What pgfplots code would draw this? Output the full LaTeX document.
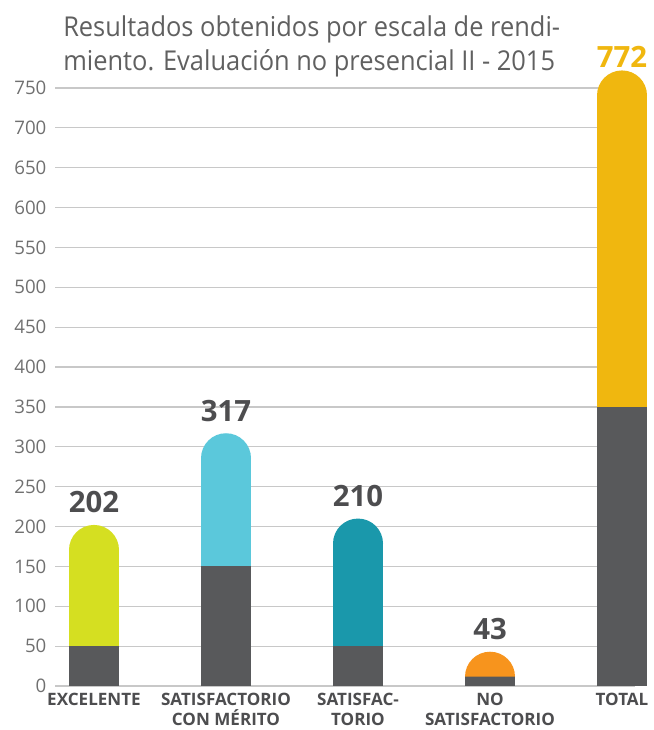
\documentclass[border=0pt]{standalone}
\usepackage{fontspec}
\setmainfont{Open Sans}
\newfontfamily\titlefont{Open Sans}[FakeStretch=0.93]
\usepackage{pgfplots}
\pgfplotsset{compat=1.18}
\definecolor{clime}{HTML}{D5DF21}
\definecolor{clblue}{HTML}{5BC8DB}
\definecolor{cteal}{HTML}{1A98AB}
\definecolor{corange}{HTML}{F7941D}
\definecolor{cyellow}{HTML}{F0B70F}
\definecolor{cgray}{HTML}{58595B}
\definecolor{ctext}{HTML}{4D4D4F}
\definecolor{ctitle}{HTML}{606060}
\definecolor{ctick}{HTML}{707070}
\definecolor{cgrid}{HTML}{C8C8C8}
\pgfdeclareplotmark{halfdisk}{%
  \pgfpathmoveto{\pgfqpoint{\pgfplotmarksize}{0pt}}%
  \pgfpatharc{0}{180}{\pgfplotmarksize}%
  \pgfpathclose
  \pgfusepathqfill}
\newcommand{\capr}{31.35}
\newcommand{\catbar}[4]{%
  \addplot[ybar, bar width=37.5pt, bar shift=0pt, fill=#4, draw=none]
    table[row sep=\\, x=x, y expr=\thisrow{top}-\capr+1.5] {x top\\ #1 #3\\};
  \addplot[only marks, mark=halfdisk, mark size=18.75pt, color=#4]
    table[row sep=\\, x=x, y expr=\thisrow{top}-\capr] {x top\\ #1 #3\\};
  \addplot[ybar, bar width=37.5pt, bar shift=0pt, fill=cgray, draw=none]
    table[row sep=\\, x=x, y=base] {x base\\ #1 #2\\};
}
\begin{document}
\begin{tikzpicture}
\useasboundingbox (-70.5pt,-33pt) rectangle (419.25pt,514.5pt);
\begin{axis}[
  anchor=origin, at={(0pt,0pt)},
  x=99pt, y=0.598pt,
  xmin=-0.295, xmax=4.1, ymin=0, ymax=750,
  clip=false,
  axis line style={draw=none},
  major tick length=0pt,
  ytick={0,50,...,750},
  ymajorgrids,
  grid style={cgrid, line width=0.9pt},
  yticklabel style={font=\fontsize{14}{14}\selectfont, text=ctick, xshift=-3pt},
  /pgf/number format/assume math mode=true,
  xtick={0,1,2,3,4},
  xticklabels={EXCELENTE,{SATISFACTORIO\\CON MÉRITO},{SATISFAC-\\TORIO},{NO\\SATISFACTORIO},TOTAL},
  xticklabel style={align=center, inner sep=1pt, font=\bfseries\fontsize{12.8}{14.5}\selectfont, text=ctext, yshift=-4.5pt},
]
\catbar{0}{50}{202}{clime}
\catbar{1}{150}{317}{clblue}
\catbar{2}{50}{210}{cteal}
\catbar{3}{14}{43}{corange}
\catbar{4}{350}{772}{cyellow}
\addplot[draw=none, mark=none, nodes near coords, point meta=y,
  every node near coord/.style={anchor=base, yshift=9pt, text=ctext, font=\bfseries\fontsize{22}{22}\selectfont}]
  table[row sep=\\] {x y\\ 0 202\\ 1 317\\ 2 210\\ 3 43\\};
\addplot[draw=none, mark=none, nodes near coords, point meta=y,
  every node near coord/.style={anchor=base, yshift=2.5pt, text=cyellow, font=\bfseries\fontsize{22}{22}\selectfont}]
  table[row sep=\\] {x y\\ 4 772\\};
\end{axis}
\node[anchor=north west, align=left, inner sep=0pt, text=ctitle, font=\titlefont\fontsize{20.5}{25}\selectfont]
  at (-23.25pt,502.75pt) {Resultados obtenidos por escala de rendi-\\miento. Evaluación no presencial II - 2015};
\end{tikzpicture}
\end{document}
